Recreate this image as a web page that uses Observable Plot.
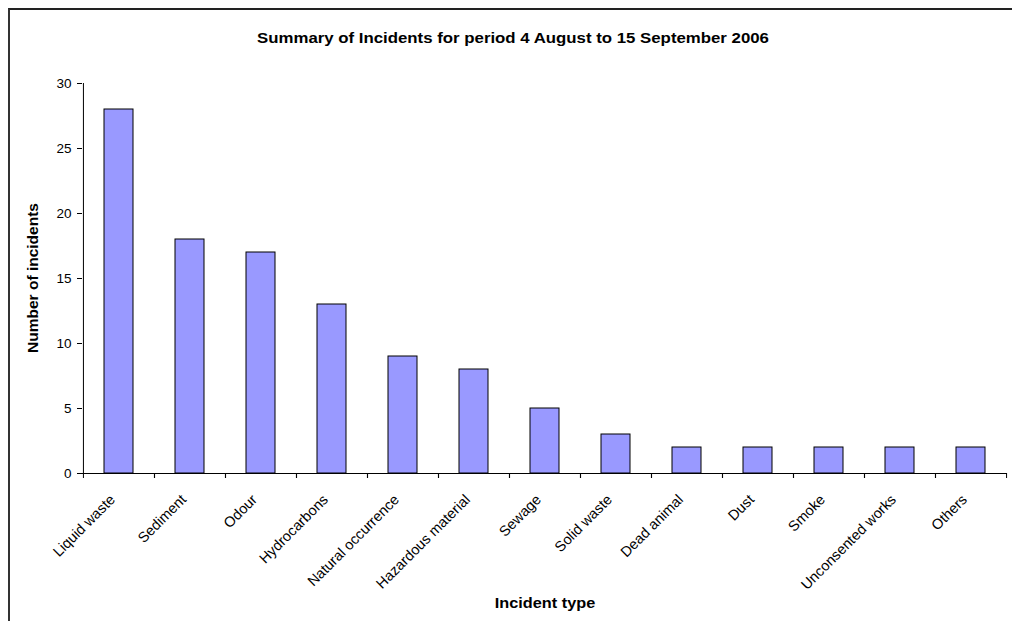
<!DOCTYPE html>
<html>
<head>
<meta charset="utf-8">
<script src="https://cdn.jsdelivr.net/npm/d3@7"></script>
<script src="https://cdn.jsdelivr.net/npm/@observablehq/plot@0.6"></script>
<style>
  html, body { margin: 0; padding: 0; background: #fff; overflow: hidden; }
  #wrap { position: relative; width: 1012px; height: 621px; font-family: "Liberation Sans", Arial, sans-serif; }
  #border { position: absolute; left: 8px; top: 8px; width: 1100px; height: 700px; border-left: 2px solid #333; border-top: 2px solid #222; }
  #chart { position: absolute; left: 0; top: 0; }
  .lbl { position: absolute; font-weight: bold; color: #000; white-space: nowrap; }
  #title { left: 513px; top: 37px; font-size: 15px; transform: translate(-50%, -50%) scaleX(1.12); }
  #xlabel { left: 545px; top: 603px; font-size: 15.5px; transform: translate(-50%, -50%) scaleX(1.05); }
  #ylabel { left: 33px; top: 278px; font-size: 15.5px; transform: translate(-50%, -50%) rotate(-90deg); }
</style>
</head>
<body>
<div id="wrap">
  <div id="border"></div>
  <div id="chart"></div>
  <div class="lbl" id="title">Summary of Incidents for period 4 August to 15 September 2006</div>
  <div class="lbl" id="xlabel">Incident type</div>
  <div class="lbl" id="ylabel">Number of incidents</div>
</div>
<script>
const categories = ["Liquid waste", "Sediment", "Odour", "Hydrocarbons", "Natural occurrence", "Hazardous material", "Sewage", "Solid waste", "Dead animal", "Dust", "Smoke", "Unconsented works", "Others"];
const counts = [28, 18, 17, 13, 9, 8, 5, 3, 2, 2, 2, 2, 2];
const yTicks = [0, 5, 10, 15, 20, 25, 30];

const data = categories.map((c, i) => ({type: c, count: counts[i]}));

const W = 1012, H = 621;
const mL = 82, mR = 5, mT = 83, mB = 148;
const step = (W - mL - mR) / categories.length;

const chart = Plot.plot({
  width: W,
  height: H,
  marginLeft: mL,
  marginRight: mR,
  marginTop: mT,
  marginBottom: mB,
  style: {fontFamily: "Liberation Sans, Arial, sans-serif", background: "transparent", overflow: "visible"},
  x: {domain: categories, paddingInner: 0.59, paddingOuter: 0.295, label: null},
  y: {domain: [0, 30], label: null},
  marks: [
    Plot.barY(data, {x: "type", y: "count", fill: "#9999ff", stroke: "#000", strokeWidth: 1}),
    Plot.axisY({ticks: yTicks, tickSize: 5, tickPadding: 6, fontSize: 13.5, label: null, stroke: "#000", color: "#000"}),
    Plot.axisX({tickSize: 5, tickFormat: () => "", dx: -step / 2, label: null, stroke: "#000"}),
    Plot.axisX({tickSize: 5, tickFormat: () => "", dx: step / 2, label: null, stroke: "#000"}),
    Plot.ruleY([0], {stroke: "#000"}),
    Plot.ruleX([categories[0]], {dx: -step / 2, stroke: "#000"}),
    Plot.text(categories, {x: d => d, frameAnchor: "bottom", dy: 27, dx: -3, rotate: -45, textAnchor: "end", lineAnchor: "bottom", fontSize: 14.5, fill: "#000"})
  ]
});
document.getElementById("chart").appendChild(chart);
</script>
</body>
</html>
